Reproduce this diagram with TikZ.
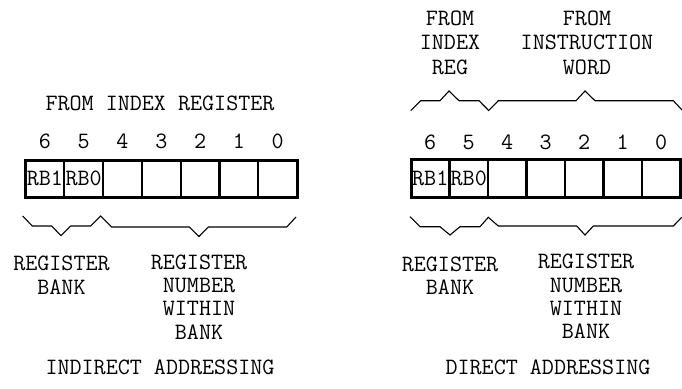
\documentclass[tikz,border=0pt]{standalone}
\usepackage{fontspec}
\begin{document}
\begin{tikzpicture}[x=1pt,y=-1pt,
  txt/.style={font=\ttfamily\fontsize{23.4}{23.3}\selectfont, inner sep=0pt, outer sep=0pt, anchor=base, align=center},
  toptxt/.style={txt, font=\ttfamily\fontsize{23.4}{24.5}\selectfont},
  cell/.style={draw, line width=2.2pt, minimum width=38.8pt, minimum height=37.5pt, inner sep=0pt, outer sep=0pt,
    font=\ttfamily\fontsize{23.4}{23.3}\selectfont},
  rcell/.style={cell, minimum width=38.5pt},
  brace/.style={line width=1.1pt, line join=miter}]
\useasboundingbox (0,0) rectangle (682,388);
\fill[white] (0,0) rectangle (682,388);

% ---------- left: indirect addressing ----------
\node[txt] (lfrom) at (160,110) {FROM INDEX REGISTER};
\foreach \i/\d in {0/6,1/5,2/4,3/3,4/2,5/1,6/0}{
  \node[txt] (ld\d) at ({25.5+38.8*(\i+0.5)},148.7) {\d};
}
\node[cell] (L6) at ({25.5+38.8*0.5},178.75) {RB1};
\node[cell] (L5) at ({25.5+38.8*1.5},178.75) {RB0};
\foreach \i/\d in {2/4,3/3,4/2,5/1,6/0}{
  \node[cell] (L\d) at ({25.5+38.8*(\i+0.5)},178.75) {};
}
\draw[line width=3pt] (L6.north west) rectangle (L0.south east);

\draw[brace] (22.7,216) -- (32.3,226) -- (51.7,226) -- (61,235.7) -- (70.7,226) -- (90.7,226) -- (100.7,216)
  -- (111.7,227) -- (189.3,227) -- (199,236.5) -- (208.3,227) -- (286.7,227) -- (296,217);

\node[txt] (lbank) at (61.5,294) {REGISTER\\BANK};
\node[txt] (lnum) at (199,339) {REGISTER\\NUMBER\\WITHIN\\BANK};
\node[txt] (lcap) at (160,374) {INDIRECT ADDRESSING};

% ---------- right: direct addressing ----------
\node[toptxt] (rfrom1) at (450,74) {FROM\\INDEX\\REG};
\node[toptxt] (rfrom2) at (587,74) {FROM\\INSTRUCTION\\WORD};

\draw[brace] (410.7,110.7) -- (420.7,100.7) -- (440,100.7) -- (449,91) -- (459,100.7) -- (479,100.7) -- (488.7,110.5)
  -- (498.3,100.7) -- (576,100.7) -- (585,91) -- (595,100.7) -- (673.3,100.7) -- (682,110);

\foreach \i/\d in {0/6,1/5,2/4,3/3,4/2,5/1,6/0}{
  \node[txt] (rd\d) at ({411+38.5*(\i+0.5)},149.7) {\d};
}
\node[rcell] (R6) at ({411+38.5*0.5},178.5) {RB1};
\node[rcell] (R5) at ({411+38.5*1.5},178.5) {RB0};
\foreach \i/\d in {2/4,3/3,4/2,5/1,6/0}{
  \node[rcell] (R\d) at ({411+38.5*(\i+0.5)},178.5) {};
}
\draw[line width=3pt] (R6.north west) rectangle (R0.south east);

\draw[brace] (410,216.7) -- (420,226.7) -- (440,226.7) -- (450,235) -- (460,226.7) -- (480,226.7) -- (488.3,217.3)
  -- (498.3,226) -- (576.7,226) -- (585,235) -- (593.3,226) -- (673.3,226) -- (681.7,217.3);

\node[txt] (rbank) at (450,294.3) {REGISTER\\BANK};
\node[txt] (rnum) at (586,338.7) {REGISTER\\NUMBER\\WITHIN\\BANK};
\node[txt] (rcap) at (548,374) {DIRECT ADDRESSING};
\end{tikzpicture}
\end{document}
